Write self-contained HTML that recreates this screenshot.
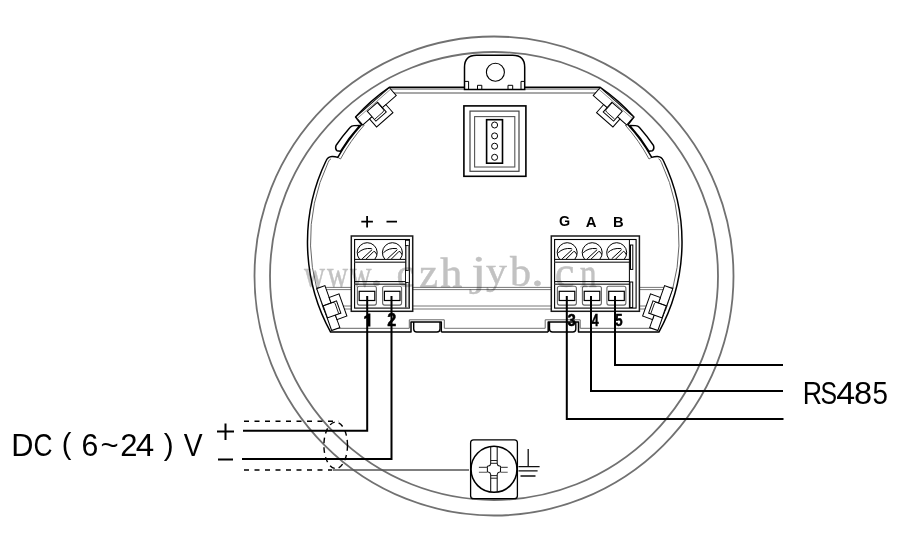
<!DOCTYPE html>
<html><head><meta charset="utf-8"><style>
html,body{margin:0;padding:0;background:#fff;}
svg{display:block;}
</style></head><body>
<svg width="900" height="551" viewBox="0 0 900 551">
<circle cx="494" cy="276" r="239.5" fill="none" stroke="#717171" stroke-width="1.8"/>
<circle cx="494" cy="276" r="224" fill="none" stroke="#717171" stroke-width="1.8"/>
<path d="M316,287.4 H673.5 M316.5,289.6 H673 M322,306 H667.5 M323,309 H666.5 M444.3,328.3 H545.2" stroke="#666" stroke-width="0.9" fill="none"/>
<path d="M441.3,332.1 H548.2" stroke="#000" stroke-width="1.5" fill="none"/>
<path d="M385,93 H604.5" stroke="#8a8a8a" stroke-width="1.3" fill="none"/>
<path d="M470,89.1 H387" stroke="#8a8a8a" stroke-width="1.5" fill="none"/>
<path d="M359.7,125.5 L354,125.6 Q351.5,125.7 350,127.5 A183.8 183.8 0 0 0 336,145.5 Q334.8,149 337,150.8 L340.4,151.3 A177 177 0 0 1 359.7,125.5 Z" stroke="#000" stroke-width="1.4" fill="#fff" stroke-linejoin="round"/>
<path d="M364.3,125 A174 174 0 0 0 340.5,159 L338.2,157.6" stroke="#666" stroke-width="1" fill="none"/>
<path d="M331,158.8 Q329,159.6 328.1,162.5 A183.5 183.5 0 0 0 332.6,328.3 H409.3 V319.8 H444.3 V328.3" stroke="#666" stroke-width="1" fill="none"/>
<path d="M470,87.3 H389.3 A187 187 0 0 0 355.6,117 L361.5,124.8 A177 177 0 0 0 337.8,157.4 Q335,156.4 332,156.5 Q327.8,156.8 326.2,160.5 A187 187 0 0 0 330.6,332.1 H411 V322 H441.3 V332.1" stroke="#000" stroke-width="1.5" fill="none" stroke-linejoin="round"/>
<path d="M413.7,322 V329 Q413.7,332 416.7,332 H437 Q440,332 440,329 V322" stroke="#000" stroke-width="1.4" fill="none"/>
<g transform="translate(372.45,102.2) rotate(-41.3)" fill="#fff" stroke="#000" stroke-width="1">
<rect x="-22.3" y="0.2" width="44.6" height="10.5"/>
<rect x="-13.3" y="10.7" width="21.8" height="10.7"/>
<rect x="-9.9" y="3.4" width="13.8" height="13.1"/>
<path d="M-9.2,14.3 H1.5 Q3.3,14.3 3.3,12.5 V4" fill="none" stroke-width="0.8"/>
<line x1="-22" y1="2.2" x2="22" y2="2.2" stroke-width="0.6" stroke="#555"/>
</g>
<g transform="translate(324.1,309.3) rotate(-109.6)" fill="#fff" stroke="#000" stroke-width="1">
<rect x="-22.5" y="0" width="44.5" height="8.7"/>
<rect x="-14" y="8.7" width="23.5" height="10.5"/>
<rect x="-9.2" y="0.3" width="12.9" height="14.2"/>
<path d="M-9,12.3 H1.5 Q3.5,12.3 3.5,10.3 V0.5" fill="none" stroke-width="0.8"/>
</g>
<g transform="matrix(-1 0 0 1 989.5 0)"><path d="M470,89.1 H387" stroke="#8a8a8a" stroke-width="1.5" fill="none"/>
<path d="M359.7,125.5 L354,125.6 Q351.5,125.7 350,127.5 A183.8 183.8 0 0 0 336,145.5 Q334.8,149 337,150.8 L340.4,151.3 A177 177 0 0 1 359.7,125.5 Z" stroke="#000" stroke-width="1.4" fill="#fff" stroke-linejoin="round"/>
<path d="M364.3,125 A174 174 0 0 0 340.5,159 L338.2,157.6" stroke="#666" stroke-width="1" fill="none"/>
<path d="M331,158.8 Q329,159.6 328.1,162.5 A183.5 183.5 0 0 0 332.6,328.3 H409.3 V319.8 H444.3 V328.3" stroke="#666" stroke-width="1" fill="none"/>
<path d="M470,87.3 H389.3 A187 187 0 0 0 355.6,117 L361.5,124.8 A177 177 0 0 0 337.8,157.4 Q335,156.4 332,156.5 Q327.8,156.8 326.2,160.5 A187 187 0 0 0 330.6,332.1 H411 V322 H441.3 V332.1" stroke="#000" stroke-width="1.5" fill="none" stroke-linejoin="round"/>
<path d="M413.7,322 V329 Q413.7,332 416.7,332 H437 Q440,332 440,329 V322" stroke="#000" stroke-width="1.4" fill="none"/>
<g transform="translate(372.45,102.2) rotate(-41.3)" fill="#fff" stroke="#000" stroke-width="1">
<rect x="-22.3" y="0.2" width="44.6" height="10.5"/>
<rect x="-13.3" y="10.7" width="21.8" height="10.7"/>
<rect x="-9.9" y="3.4" width="13.8" height="13.1"/>
<path d="M-9.2,14.3 H1.5 Q3.3,14.3 3.3,12.5 V4" fill="none" stroke-width="0.8"/>
<line x1="-22" y1="2.2" x2="22" y2="2.2" stroke-width="0.6" stroke="#555"/>
</g>
<g transform="translate(324.1,309.3) rotate(-109.6)" fill="#fff" stroke="#000" stroke-width="1">
<rect x="-22.5" y="0" width="44.5" height="8.7"/>
<rect x="-14" y="8.7" width="23.5" height="10.5"/>
<rect x="-9.2" y="0.3" width="12.9" height="14.2"/>
<path d="M-9,12.3 H1.5 Q3.5,12.3 3.5,10.3 V0.5" fill="none" stroke-width="0.8"/>
</g></g>
<path d="M464.5,89.5 V67.3 Q464.5,55.3 476.5,55.3 H512.7 Q524.7,55.3 524.7,67.3 V89.5 Z" fill="#fff" stroke="#000" stroke-width="1.5"/>
<circle cx="495.4" cy="72.3" r="9" fill="none" stroke="#000" stroke-width="1.1"/>
<path d="M464.8,81.4 H468.6 V89.5 M477.5,89.5 V85.3 H481.8 V89.5 M508,89.5 V85.3 H512.7 V89.5 M524.4,81.4 H521 V89.5" fill="none" stroke="#000" stroke-width="1"/>
<rect x="463.9" y="105.9" width="62" height="70.4" fill="none" stroke="#000" stroke-width="1.6"/>
<rect x="470" y="111.1" width="49" height="60.2" fill="none" stroke="#444" stroke-width="1.2"/>
<rect x="474.6" y="116.6" width="40.2" height="50.4" fill="none" stroke="#555" stroke-width="1.1"/>
<rect x="486.6" y="119.7" width="15.9" height="43.5" fill="none" stroke="#000" stroke-width="1.6"/>
<circle cx="494.6" cy="125" r="3" fill="none" stroke="#000" stroke-width="1"/>
<circle cx="494.6" cy="135.9" r="3" fill="none" stroke="#000" stroke-width="1"/>
<circle cx="494.6" cy="146.2" r="3" fill="none" stroke="#000" stroke-width="1"/>
<circle cx="494.6" cy="157.3" r="3" fill="none" stroke="#000" stroke-width="1"/>
<rect x="351.3" y="236" width="61.39999999999998" height="75.3" fill="#fff" stroke="#1a1a1a" stroke-width="1.5"/>
<rect x="354.6" y="239.5" width="54.799999999999976" height="68.6" fill="none" stroke="#000" stroke-width="1.1"/>
<path d="M359.59999999999997,259.2 A10 10 0 1 1 374.8,259.2" fill="none" stroke="#000" stroke-width="1"/>
<path d="M358.2,252.8 Q363.2,247.6 371.7,248.6 M372.2,249.6 L362.2,258.8 M373.9,251.3 L366.2,259 M373.9,251.3 Q376.5,252.3 376.5,254.5" fill="none" stroke="#000" stroke-width="1"/>
<path d="M384.79999999999995,259.2 A10 10 0 1 1 400.0,259.2" fill="none" stroke="#000" stroke-width="1"/>
<path d="M383.4,252.8 Q388.4,247.6 396.9,248.6 M397.4,249.6 L387.4,258.8 M399.09999999999997,251.3 L391.4,259 M399.09999999999997,251.3 Q401.7,252.3 401.7,254.5" fill="none" stroke="#000" stroke-width="1"/>
<path d="M354.6,259.4 H405.5" stroke="#000" stroke-width="1"/>
<path d="M354.6,262.2 H405.5" stroke="#555" stroke-width="1.4"/>
<path d="M354.6,281.6 H405.5" stroke="#000" stroke-width="1"/>
<path d="M354.6,284.2 H405.5" stroke="#555" stroke-width="1.4"/>
<rect x="357.4" y="286.3" width="19" height="18.8" rx="2" fill="none" stroke="#666" stroke-width="1.1"/>
<rect x="359.2" y="291.3" width="15.6" height="9.2" fill="#fff" stroke="#000" stroke-width="1.2"/>
<rect x="382.59999999999997" y="286.3" width="19" height="18.8" rx="2" fill="none" stroke="#666" stroke-width="1.1"/>
<rect x="384.4" y="291.3" width="15.6" height="9.2" fill="#fff" stroke="#000" stroke-width="1.2"/>
<rect x="405.5" y="240.3" width="3.8" height="5.3" fill="#fff" stroke="#000" stroke-width="0.9"/><rect x="405.5" y="270.4" width="3.8" height="12.1" fill="#fff" stroke="#000" stroke-width="0.9"/>
<path d="M405.8,245.6 V270.4 M405.8,282.5 V307.5" stroke="#000" stroke-width="1.2"/><path d="M408.6,245.6 V270.4 M408.6,282.5 V307.5" stroke="#777" stroke-width="1.4"/>
<rect x="551.3" y="236" width="88.10000000000002" height="75.3" fill="#fff" stroke="#1a1a1a" stroke-width="1.5"/>
<rect x="554.5999999999999" y="239.5" width="81.50000000000003" height="68.6" fill="none" stroke="#000" stroke-width="1.1"/>
<path d="M559.6,259.2 A10 10 0 1 1 574.8000000000001,259.2" fill="none" stroke="#000" stroke-width="1"/>
<path d="M558.2,252.8 Q563.2,247.6 571.7,248.6 M572.2,249.6 L562.2,258.8 M573.9000000000001,251.3 L566.2,259 M573.9000000000001,251.3 Q576.5,252.3 576.5,254.5" fill="none" stroke="#000" stroke-width="1"/>
<path d="M584.6,259.2 A10 10 0 1 1 599.8000000000001,259.2" fill="none" stroke="#000" stroke-width="1"/>
<path d="M583.2,252.8 Q588.2,247.6 596.7,248.6 M597.2,249.6 L587.2,258.8 M598.9000000000001,251.3 L591.2,259 M598.9000000000001,251.3 Q601.5,252.3 601.5,254.5" fill="none" stroke="#000" stroke-width="1"/>
<path d="M609.1,259.2 A10 10 0 1 1 624.3000000000001,259.2" fill="none" stroke="#000" stroke-width="1"/>
<path d="M607.7,252.8 Q612.7,247.6 621.2,248.6 M621.7,249.6 L611.7,258.8 M623.4000000000001,251.3 L615.7,259 M623.4000000000001,251.3 Q626.0,252.3 626.0,254.5" fill="none" stroke="#000" stroke-width="1"/>
<path d="M554.5999999999999,259.4 H629.4" stroke="#000" stroke-width="1"/>
<path d="M554.5999999999999,262.2 H629.4" stroke="#555" stroke-width="1.4"/>
<path d="M554.5999999999999,281.6 H629.4" stroke="#000" stroke-width="1"/>
<path d="M554.5999999999999,284.2 H629.4" stroke="#555" stroke-width="1.4"/>
<rect x="557.4000000000001" y="286.3" width="19" height="18.8" rx="2" fill="none" stroke="#666" stroke-width="1.1"/>
<rect x="559.2" y="291.3" width="15.6" height="9.2" fill="#fff" stroke="#000" stroke-width="1.2"/>
<rect x="582.4000000000001" y="286.3" width="19" height="18.8" rx="2" fill="none" stroke="#666" stroke-width="1.1"/>
<rect x="584.2" y="291.3" width="15.6" height="9.2" fill="#fff" stroke="#000" stroke-width="1.2"/>
<rect x="606.9000000000001" y="286.3" width="19" height="18.8" rx="2" fill="none" stroke="#666" stroke-width="1.1"/>
<rect x="608.7" y="291.3" width="15.6" height="9.2" fill="#fff" stroke="#000" stroke-width="1.2"/>
<path d="M629.4,239.4 V308.1" stroke="#000" stroke-width="1"/><rect x="630.5" y="245" width="2.3" height="24.4" fill="none" stroke="#000" stroke-width="1"/><rect x="630" y="282" width="2.7" height="25.5" fill="none" stroke="#000" stroke-width="1"/>
<path d="M367.2,296 V430.7 H243 M391.5,296 V459 H242 M566.8,296 V419.1 H783.5 M591,296 V390.9 H783 M615,296 V365.1 H783" fill="none" stroke="#000" stroke-width="2"/>
<path d="M244,421.3 H338.7 M244,470 H332" stroke="#000" stroke-width="1.4" stroke-dasharray="5,5.5"/>
<ellipse cx="335.7" cy="445.3" rx="11.8" ry="23.2" fill="none" stroke="#000" stroke-width="1.4" stroke-dasharray="5.5,4.2"/>
<path d="M332.7,470 H469" stroke="#555" stroke-width="1.5"/>
<rect x="470.6" y="439.8" width="46.8" height="58.9" rx="3" fill="#fff" stroke="#000" stroke-width="1.3"/>
<circle cx="494" cy="469.3" r="23" fill="none" stroke="#000" stroke-width="1.6"/>
<path d="M490.7,446.6 V463.6 Q490.5,465.8 488.3,466.1 L487.4,466.3 V471.7 L488.3,471.9 Q490.5,472.3 490.7,474.5 V491.8 M497.2,446.6 V463.6 Q497.4,465.8 499.6,466.1 L500.5,466.3 V471.7 L499.6,471.9 Q497.4,472.3 497.2,474.5 V491.8" stroke="#111" stroke-width="1.05" fill="none"/>
<path d="M490.7,460.5 H497.2 M490.7,463.3 H497.2 M490.7,475.6 H497.2 M490.7,478.2 H497.2" stroke="#222" stroke-width="1"/>
<path d="M478.9,467.4 H487.4 M478.9,472.3 H487.4 M500.5,467.4 H507.7 M500.5,472.3 H507.7" stroke="#555" stroke-width="1.1"/>
<path d="M528.2,449 V466.7 M518.5,466.7 H539.6 M518.5,470.8 H537.6 M520.5,476 H535.5" stroke="#111" stroke-width="1.3"/>
<path d="M361.3,221.7 H372.9 M367.1,215.9 V227.5 M386.5,221.6 H397" stroke="#000" stroke-width="1.8"/>
<text transform="translate(558.93,226.35) scale(0.9906,1)" font-family='"Liberation Sans", sans-serif' font-weight="bold" font-size="14.51" fill="#000" >G</text>
<text transform="translate(585.83,226.50) scale(0.9999,1)" font-family='"Liberation Sans", sans-serif' font-weight="bold" font-size="14.93" fill="#000" >A</text>
<text transform="translate(613.04,226.50) scale(0.9884,1)" font-family='"Liberation Sans", sans-serif' font-weight="bold" font-size="14.93" fill="#000" >B</text>
<path d="M364.2,319 V316.5 Q366.8,315.6 367.9,313.6 H370.4 V326.6 H367.3 V317.8 Q366,318.9 364.2,319 Z" fill="#000"/>
<text transform="translate(387.18,326.35) scale(0.9100,1)" font-family='"Liberation Sans", sans-serif' font-weight="bold" font-size="17.86" fill="#000" stroke="#000" stroke-width="0.5">2</text>
<text transform="translate(567.38,325.89) scale(0.9230,1)" font-family='"Liberation Sans", sans-serif' font-weight="bold" font-size="16.20" fill="#000" stroke="#000" stroke-width="0.5">3</text>
<text transform="translate(591.76,326.05) scale(0.7402,1)" font-family='"Liberation Sans", sans-serif' font-weight="bold" font-size="16.67" fill="#000" stroke="#000" stroke-width="0.5">4</text>
<text transform="translate(615.25,325.89) scale(0.8035,1)" font-family='"Liberation Sans", sans-serif' font-weight="bold" font-size="16.43" fill="#000" stroke="#000" stroke-width="0.5">5</text>
<text transform="translate(100.60,454.76) scale(1.1111,1)" font-family='"Liberation Sans", sans-serif' font-weight="normal" font-size="28.00" fill="#000" >~</text>
<text transform="translate(11.14,455.60) scale(0.9780,1)" font-family='"Liberation Sans", sans-serif' font-weight="normal" font-size="31.45" fill="#000" >D</text>
<text transform="translate(33.38,455.68) scale(0.8315,1)" font-family='"Liberation Sans", sans-serif' font-weight="normal" font-size="31.69" fill="#000" >C</text>
<text transform="translate(61.86,454.47) scale(0.9952,1)" font-family='"Liberation Sans", sans-serif' font-weight="normal" font-size="29.20" fill="#000" >(</text>
<text transform="translate(81.49,455.58) scale(0.9493,1)" font-family='"Liberation Sans", sans-serif' font-weight="normal" font-size="31.83" fill="#000" >6</text>
<text transform="translate(120.25,455.70) scale(0.9996,1)" font-family='"Liberation Sans", sans-serif' font-weight="normal" font-size="31.00" fill="#000" >2</text>
<text transform="translate(135.67,455.70) scale(1.0557,1)" font-family='"Liberation Sans", sans-serif' font-weight="normal" font-size="31.45" fill="#000" >4</text>
<text transform="translate(163.70,454.62) scale(1.0069,1)" font-family='"Liberation Sans", sans-serif' font-weight="normal" font-size="29.41" fill="#000" >)</text>
<text transform="translate(183.66,455.70) scale(0.8981,1)" font-family='"Liberation Sans", sans-serif' font-weight="normal" font-size="31.45" fill="#000" >V</text>
<path d="M217,431.5 H234 M225.5,423.5 V440 M218,459.4 H233" stroke="#000" stroke-width="2"/>
<text transform="translate(802.76,404.20) scale(0.8476,1)" font-family='"Liberation Sans", sans-serif' font-weight="normal" font-size="31.59" fill="#000" >R</text>
<text transform="translate(820.58,404.09) scale(0.7954,1)" font-family='"Liberation Sans", sans-serif' font-weight="normal" font-size="31.27" fill="#000" >S</text>
<text transform="translate(836.15,404.20) scale(1.0761,1)" font-family='"Liberation Sans", sans-serif' font-weight="normal" font-size="31.59" fill="#000" >4</text>
<text transform="translate(854.04,404.09) scale(1.0411,1)" font-family='"Liberation Sans", sans-serif' font-weight="normal" font-size="31.27" fill="#000" >8</text>
<text transform="translate(872.39,404.09) scale(0.8842,1)" font-family='"Liberation Sans", sans-serif' font-weight="normal" font-size="31.43" fill="#000" >5</text>
<g style="mix-blend-mode:multiply">
<text transform="translate(304.00,286.61) scale(0.7535,1)" font-family='"Liberation Serif", serif' font-weight="normal" font-size="38.71" fill="#c2c2c2" stroke="#c2c2c2" stroke-width="0.45">w</text>
<text transform="translate(327.00,286.61) scale(0.7535,1)" font-family='"Liberation Serif", serif' font-weight="normal" font-size="38.71" fill="#c2c2c2" stroke="#c2c2c2" stroke-width="0.45">w</text>
<text transform="translate(350.00,286.61) scale(0.7714,1)" font-family='"Liberation Serif", serif' font-weight="normal" font-size="38.71" fill="#c2c2c2" stroke="#c2c2c2" stroke-width="0.45">w</text>
<text transform="translate(370.04,285.95) scale(1.1883,1)" font-family='"Liberation Serif", serif' font-weight="normal" font-size="43.48" fill="#c2c2c2" stroke="#c2c2c2" stroke-width="0.45">.</text>
<text transform="translate(396.40,286.58) scale(0.9600,1)" font-family='"Liberation Serif", serif' font-weight="normal" font-size="41.67" fill="#c2c2c2" stroke="#c2c2c2" stroke-width="0.45">c</text>
<text transform="translate(419.35,286.50) scale(0.9971,1)" font-family='"Liberation Serif", serif' font-weight="normal" font-size="42.17" fill="#c2c2c2" stroke="#c2c2c2" stroke-width="0.45">z</text>
<text transform="translate(440.26,286.71) scale(1.0341,1)" font-family='"Liberation Serif", serif' font-weight="normal" font-size="42.75" fill="#c2c2c2" stroke="#c2c2c2" stroke-width="0.45">h</text>
<text transform="translate(486.08,284.16) scale(1.1217,1)" font-family='"Liberation Serif", serif' font-weight="normal" font-size="37.31" fill="#c2c2c2" stroke="#c2c2c2" stroke-width="0.45">y</text>
<text transform="translate(509.90,286.28) scale(0.9940,1)" font-family='"Liberation Serif", serif' font-weight="normal" font-size="42.43" fill="#c2c2c2" stroke="#c2c2c2" stroke-width="0.45">b</text>
<text transform="translate(531.04,285.95) scale(1.1883,1)" font-family='"Liberation Serif", serif' font-weight="normal" font-size="43.48" fill="#c2c2c2" stroke="#c2c2c2" stroke-width="0.45">.</text>
<text transform="translate(554.83,286.56) scale(1.0118,1)" font-family='"Liberation Serif", serif' font-weight="normal" font-size="43.75" fill="#c2c2c2" stroke="#c2c2c2" stroke-width="0.45">c</text>
<text transform="translate(579.85,286.72) scale(0.7885,1)" font-family='"Liberation Serif", serif' font-weight="normal" font-size="43.01" fill="#c2c2c2" stroke="#c2c2c2" stroke-width="0.45">n</text>
<text transform="translate(471.14,284.81) scale(1.2834,1)" font-family='"Liberation Serif", serif' font-weight="normal" font-size="42.50" fill="#c2c2c2" stroke="#c2c2c2" stroke-width="0.3">j</text>
</g>
</svg></body></html>
